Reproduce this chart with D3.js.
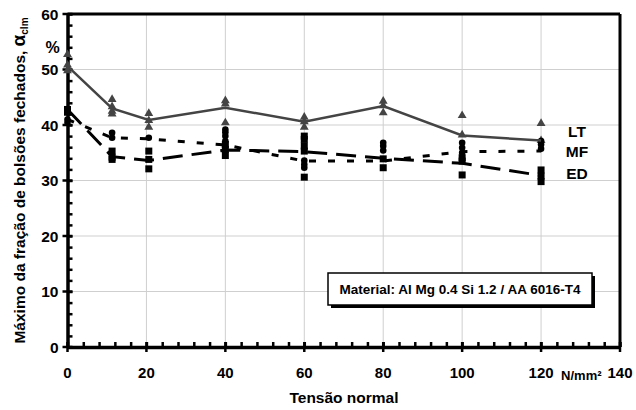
<!DOCTYPE html>
<html>
<head>
<meta charset="utf-8">
<script src="https://cdn.jsdelivr.net/npm/d3@7"></script>
<style>
  body { margin: 0; background: #fff; }
  svg text { font-family: Arial, "Liberation Sans", sans-serif; font-weight: bold; }
</style>
</head>
<body>
<svg id="chart" width="636" height="410"></svg>
<script>
// Data
const stress = [0, 11.3, 20.6, 40, 60, 80, 100, 120];
const ltMean = [50.6, 43.0, 40.9, 43.1, 40.6, 43.4, 38.1, 37.2];
const mfMean = [41.0, 37.7, 37.5, 36.4, 33.5, 33.5, 35.2, 35.3];
const edMean = [42.8, 34.3, 33.6, 35.5, 35.2, 34.0, 33.1, 30.9];
const ltPoints = [[52.7, 50.8, 49.8], [44.6, 43.3, 42.5, 42.0], [42.1, 40.8, 39.6], [44.4, 43.8, 40.4],
                  [41.4, 40.6, 39.6], [44.3, 43.5, 42.2], [41.7, 38.2], [40.3, 37.2]];
const mfPoints = [[41.0, 40.4], [38.6, 37.7], [37.7], [39.2, 38.7, 38.0, 37.1],
                  [33.6, 32.9, 32.3], [36.8, 36.2, 35.4], [36.8, 35.9, 35.0], [37.1, 36.5, 35.7]];
const edPoints = [[42.8, 42.3], [35.3, 34.2, 33.8], [35.3, 33.8, 32.1], [36.5, 35.6, 34.5],
                  [38.0, 37.4, 36.2, 35.3, 30.6], [33.9, 32.3], [34.1, 33.5, 31.0], [31.9, 30.8, 29.8]];
const xTicks = [0, 20, 40, 60, 80, 100, 120, 140];
const yTicks = [0, 10, 20, 30, 40, 50, 60];

var margin = { top: 14, right: 16, bottom: 63, left: 67.5 };
var width = 636 - margin.left - margin.right;
var height = 410 - margin.top - margin.bottom;

var x = d3.scaleLinear().domain([0, 140]).range([0, width]);
var y = d3.scaleLinear().domain([0, 60]).range([height, 0]);

const svg = d3.select("#chart")
    .append("g")
    .attr("transform", "translate(" + margin.left + "," + margin.top + ")");

// Grid
svg.selectAll(".vgrid")
    .data(xTicks.filter(d => d > 0 && d < 140))
    .enter().append("line")
    .attr("x1", d => x(d)).attr("x2", d => x(d))
    .attr("y1", 0).attr("y2", height)
    .attr("stroke", "#cfcfcf").attr("stroke-width", 1);
svg.selectAll(".hgrid")
    .data(yTicks.filter(d => d > 0 && d < 60))
    .enter().append("line")
    .attr("x1", 0).attr("x2", width)
    .attr("y1", d => y(d)).attr("y2", d => y(d))
    .attr("stroke", "#cfcfcf").attr("stroke-width", 1);

// Frame top and right
svg.append("line").attr("x1", 0).attr("x2", width).attr("y1", y(60)).attr("y2", y(60))
    .attr("stroke", "#000").attr("stroke-width", 3);
svg.append("line").attr("x1", x(140)).attr("x2", x(140)).attr("y1", 0).attr("y2", height)
    .attr("stroke", "#000").attr("stroke-width", 3);

// X axis
const xAxis = svg.append("g")
    .attr("transform", "translate(0," + height + ")")
    .call(d3.axisBottom(x).tickValues(d3.range(0, 141, 4)).tickSize(0).tickFormat(""));
xAxis.select(".domain").attr("stroke-width", 3.5);
xAxis.selectAll(".tick line").attr("y1", -5).attr("y2", 0).attr("stroke-width", 2.5);
svg.append("g").selectAll("line")
    .data(xTicks).enter().append("line")
    .attr("x1", d => x(d)).attr("x2", d => x(d))
    .attr("y1", height - 5).attr("y2", height + 5)
    .attr("stroke", "#000").attr("stroke-width", 2.5);
svg.append("g").selectAll("text")
    .data(xTicks).enter().append("text")
    .attr("x", d => x(d)).attr("y", height + 31)
    .attr("text-anchor", "middle").attr("font-size", 15)
    .text(d => d);
svg.append("text").attr("x", x(130.2)).attr("y", height + 33)
    .attr("text-anchor", "middle").attr("font-size", 13).attr("font-weight", "normal")
    .text("N/mm²");

// Y axis
const yAxis = svg.append("g")
    .call(d3.axisLeft(y).tickValues(d3.range(0, 61, 2)).tickSize(0).tickFormat(""));
yAxis.select(".domain").attr("stroke-width", 3.5);
yAxis.selectAll(".tick line").attr("x1", 0).attr("x2", 5).attr("stroke-width", 2.5);
svg.append("g").selectAll("line")
    .data(yTicks).enter().append("line")
    .attr("x1", -5).attr("x2", 5)
    .attr("y1", d => y(d)).attr("y2", d => y(d))
    .attr("stroke", "#000").attr("stroke-width", 2.5);
svg.append("g").selectAll("text")
    .data(yTicks).enter().append("text")
    .attr("x", -9).attr("y", d => y(d) + 5.5)
    .attr("text-anchor", "end").attr("font-size", 15.5)
    .text(d => d);
svg.append("text").attr("x", -15).attr("y", 39)
    .attr("text-anchor", "middle").attr("font-size", 16).text("%");

// Axis titles
svg.append("text").attr("x", 344 - margin.left).attr("y", height + 56)
    .attr("text-anchor", "middle").attr("font-size", 15.5).text("Tensão normal");
const yTitle = svg.append("text")
    .attr("transform", "translate(" + (-42.5) + "," + (180.5 - margin.top) + ") rotate(-90)")
    .attr("text-anchor", "middle").attr("font-size", 15.5);
yTitle.append("tspan").text("Máximo da fração de bolsões fechados, ");
yTitle.append("tspan").attr("font-size", 19).text("α");
yTitle.append("tspan").attr("font-size", 10).attr("dy", 3).text("clm");

// Scatter points
function flat(points) {
    const out = [];
    points.forEach((vals, i) => vals.forEach(v => out.push([stress[i], v])));
    return out;
}
svg.append("g").selectAll("path")
    .data(flat(ltPoints)).enter().append("path")
    .attr("d", d3.symbol(d3.symbolTriangle, 34))
    .attr("transform", d => "translate(" + x(d[0]) + "," + y(d[1]) + ")")
    .attr("fill", "#444");
svg.append("g").selectAll("circle")
    .data(flat(mfPoints)).enter().append("circle")
    .attr("cx", d => x(d[0])).attr("cy", d => y(d[1])).attr("r", 3.3)
    .attr("fill", "#000");
svg.append("g").selectAll("rect")
    .data(flat(edPoints)).enter().append("rect")
    .attr("x", d => x(d[0]) - 3.5).attr("y", d => y(d[1]) - 3.5)
    .attr("width", 7).attr("height", 7)
    .attr("fill", "#000");

// Mean lines
const line = d3.line().x((d, i) => x(stress[i])).y(d => y(d));
svg.append("path").datum(edMean).attr("d", line)
    .attr("fill", "none").attr("stroke", "#000").attr("stroke-width", 3)
    .attr("stroke-dasharray", "20,9");
svg.append("path").datum(mfMean).attr("d", line)
    .attr("fill", "none").attr("stroke", "#000").attr("stroke-width", 3)
    .attr("stroke-dasharray", "7,12");
svg.append("path").datum(ltMean).attr("d", line)
    .attr("fill", "none").attr("stroke", "#444").attr("stroke-width", 2.5);

// Series labels (baseline value)
const labels = [["LT", 37.9], ["MF", 34.25], ["ED", 30.3]];
svg.append("g").selectAll("text")
    .data(labels).enter().append("text")
    .attr("x", x(129.1)).attr("y", d => y(d[1]))
    .attr("text-anchor", "middle").attr("font-size", 15.5)
    .text(d => d[0]);

// Material box
const box = svg.append("g").attr("transform", "translate(" + (328 - margin.left) + "," + (273 - margin.top) + ")");
box.append("rect").attr("x", 3).attr("y", 3).attr("width", 264).attr("height", 32).attr("fill", "#000");
box.append("rect").attr("x", 0).attr("y", 0).attr("width", 264).attr("height", 32)
    .attr("fill", "#fff").attr("stroke", "#000").attr("stroke-width", 1.5);
box.append("text").attr("x", 132).attr("y", 21).attr("text-anchor", "middle")
    .attr("font-size", 13.5).text("Material: Al Mg 0.4 Si 1.2 / AA 6016-T4");
</script>
</body>
</html>
